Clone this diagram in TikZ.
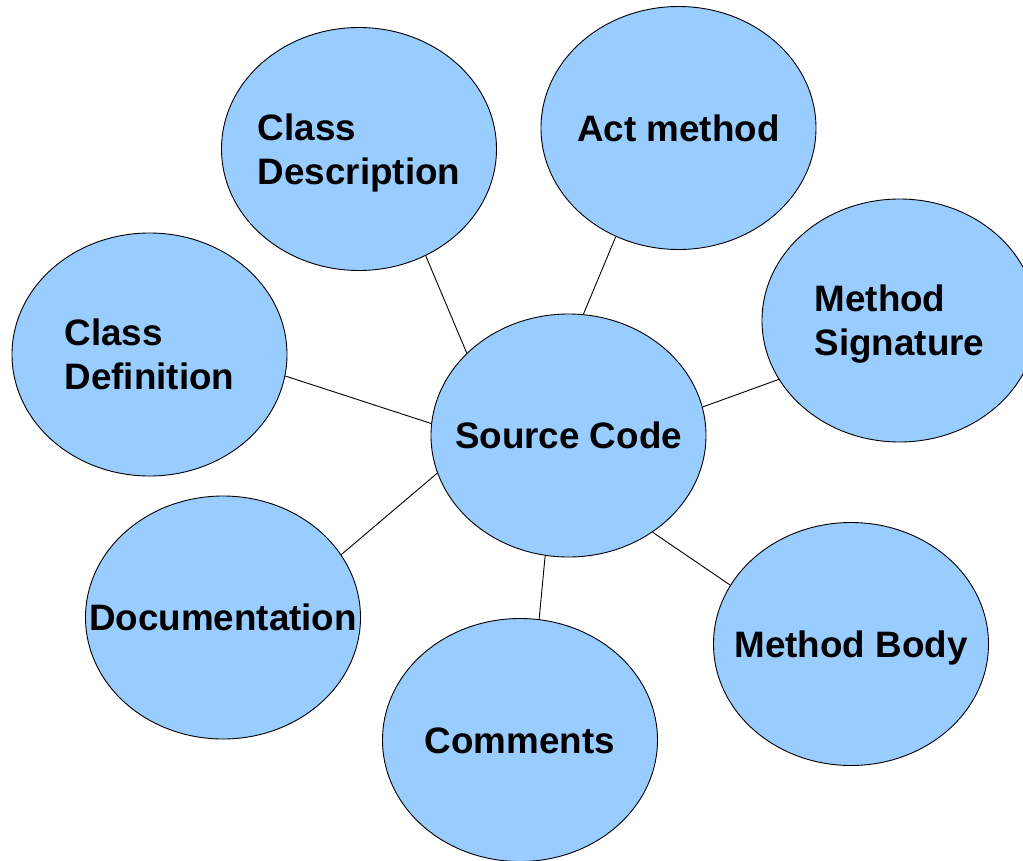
\documentclass[tikz,border=0pt]{standalone}
\usepackage{fontspec}
\setmainfont{Liberation Sans}
\usetikzlibrary{shapes.geometric}

% zero-width labels whose box spans exactly the capital letters,
% so that the text sits centred in each bubble
\newcommand{\oneline}[1]{\makebox[0pt]{\raisebox{0pt}[26.35pt][0pt]{#1}}}
\newcommand{\twoline}[2]{\makebox[0pt]{\raisebox{0pt}[70.35pt][0pt]{%
  \vbox{\baselineskip=44pt\hbox{#1}\hbox{#2}}}}}

\definecolor{bubblefill}{RGB}{153,204,255}

\begin{document}
\begin{tikzpicture}[x=1pt,y=1pt,
  bubble/.style={ellipse, draw=black, line width=0.9pt, fill=bubblefill,
    minimum width=275pt, minimum height=243pt, inner sep=0pt,
    font=\fontsize{36.8}{44}\selectfont\bfseries},
  link/.style={draw=black, line width=0.9pt}]
\useasboundingbox (0,0) rectangle (1023,-860);

\node[bubble] (cdesc) at (359,-149)   {\twoline{Class}{Description}};
\node[bubble] (act)   at (678.5,-128) {\oneline{Act method}};
\node[bubble] (msig)  at (899.5,-320.5) {\twoline{Method}{Signature}};
\node[bubble] (cdef)  at (149.5,-354.5) {\twoline{Class}{Definition}};
\node[bubble] (src)   at (568.5,-435.5) {\oneline{Source Code}};
\node[bubble] (doc)   at (223,-617.5) {\oneline{Documentation}};
\node[bubble] (com)   at (520,-740)   {\oneline{Comments}};
\node[bubble] (mbody) at (851,-644)   {\oneline{Method Body}};

\draw[link] (cdesc.302.2) -- (src.141.8);
\draw[link] (act.240.6)   -- (src.83.2);
\draw[link] (cdef.351.7)  -- (src.175);
\draw[link] (msig.206.3)  -- (src.12);
\draw[link] (doc.28.5)    -- (src.196.3);
\draw[link] (com.81.5)    -- (src.259.7);
\draw[link] (mbody.154.6) -- (src.311.6);
\end{tikzpicture}
\end{document}
